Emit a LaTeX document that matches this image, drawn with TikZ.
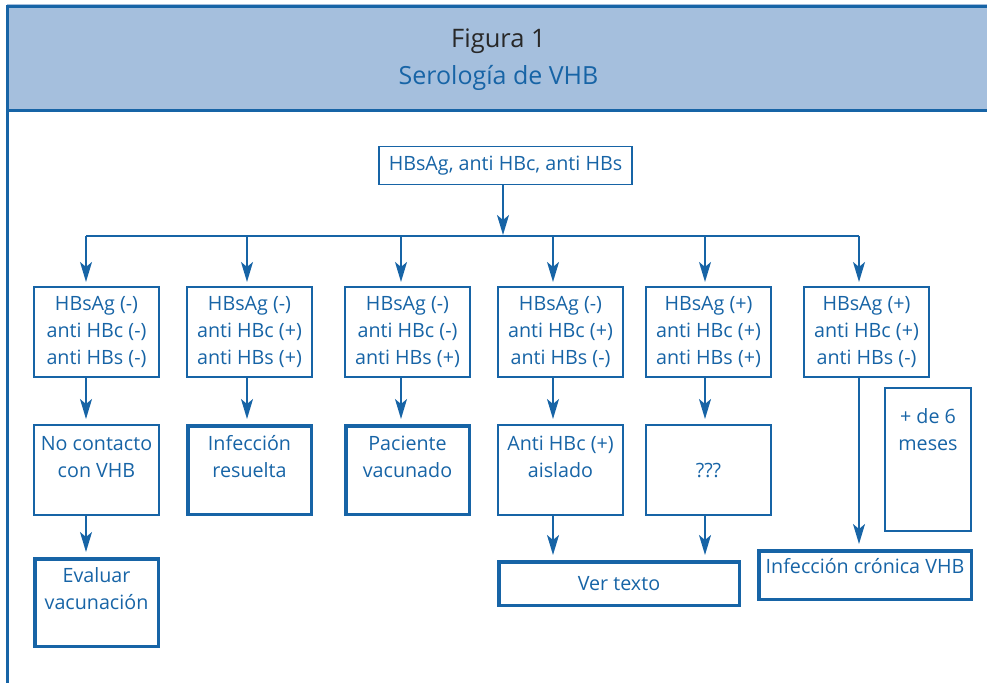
\documentclass[tikz,border=0pt]{standalone}
\usepackage{fontspec}
\setmainfont{Open Sans}
\usetikzlibrary{arrows.meta}
\definecolor{vblue}{RGB}{23,100,166}
\definecolor{hdrfill}{RGB}{165,191,221}
\definecolor{ttl}{RGB}{40,40,40}
\begin{document}
\begin{tikzpicture}[x=1pt,y=-1pt,
  boxtxt/.style={text=vblue, align=center, font=\fontsize{19.7}{27}\selectfont},
  box/.style={boxtxt, draw=vblue, line width=1.6pt, inner sep=0pt},
  thickbox/.style={box, line width=3.5pt},
  arr/.style={draw=vblue, line width=1.6pt, -{Stealth[length=20pt,width=12pt,inset=5pt]}, shorten >=5pt},
  link/.style={draw=vblue, line width=1.6pt},
  rowone/.style={box, minimum width=125.5pt, minimum height=90.5pt},
  rowtwo/.style={minimum width=127pt-#1, minimum height=92pt-#1}]
\useasboundingbox (0,0) rectangle (987,683);
% header
\fill[hdrfill] (7,4) rectangle (987,110);
\draw[vblue, line width=3pt] (987,6) -- (7,6) -- (7,683);
\draw[vblue, line width=3pt] (7,110) -- (987,110);
\node[font=\fontsize{25.5}{28}\selectfont, text=ttl, anchor=base] (t1) at (498.5,47) {Figura 1};
\node[font=\fontsize{25}{28}\selectfont, text=vblue, anchor=base] (t2) at (498.5,84) {Serología de VHB};
% top
\node[box, minimum width=253pt, minimum height=38pt] (top) at (505.5,165.5) {HBsAg, anti HBc, anti HBs};
% row 1
\node[rowone] (b1) at (96.5,332) {HBsAg (-)\\anti HBc (-)\\anti HBs (-)};
\node[rowone] (b2) at (249.5,332) {HBsAg (-)\\anti HBc (+)\\anti HBs (+)};
\node[rowone] (b3) at (407.5,332) {HBsAg (-)\\anti HBc (-)\\anti HBs (+)};
\node[rowone] (b4) at (560.5,332) {HBsAg (-)\\anti HBc (+)\\anti HBs (-)};
\node[rowone] (b5) at (708.5,332) {HBsAg (+)\\anti HBc (+)\\anti HBs (+)};
\node[rowone] (b6) at (866.5,332) {HBsAg (+)\\anti HBc (+)\\anti HBs (-)};
% row 2
\node[box, rowtwo=1.6pt] (c1) at (96.5,470) {No contacto\\con VHB\\\mbox{}};
\node[thickbox, rowtwo=3.5pt] (c2) at (249.5,470) {Infección\\resuelta\\\mbox{}};
\node[thickbox, rowtwo=3.5pt] (c3) at (407.5,470) {Paciente\\vacunado\\\mbox{}};
\node[box, rowtwo=1.6pt] (c4) at (560.5,470) {Anti HBc (+)\\aislado\\\mbox{}};
\node[box, rowtwo=1.6pt] (c5) at (708.5,470) {???};
\node[box, minimum width=86.4pt, minimum height=143.4pt,
  label={[boxtxt, inner sep=0pt, anchor=north, yshift=-21pt]north:{+ de 6\\meses}}] (m) at (928,459.5) {};
% row 3
\node[thickbox, minimum width=123.5pt, minimum height=87.5pt] (d1) at (96.5,602.5) {Evaluar\\vacunación\\\mbox{}};
\node[thickbox, minimum width=240.5pt, minimum height=43.5pt] (v) at (619,583.5) {Ver texto};
\node[thickbox, minimum width=212.5pt, minimum height=48.5pt, text height=15pt, text depth=19pt] (ic) at (865,575) {Infección crónica VHB};
% connectors
\coordinate (jt) at (503,236);
\coordinate (j1) at (86,236);
\coordinate (j2) at (247,236);
\coordinate (j3) at (401,236);
\coordinate (j4) at (553,236);
\coordinate (j5) at (705,236);
\coordinate (j6) at (859,236);
\draw[arr, shorten >=1pt] (top.south -| jt) -- (jt);
\draw[link] (j1) -- (j6);
\foreach \i in {1,...,6} {\draw[arr, shorten >=4pt] (j\i) -- (j\i |- b\i.north);}
\draw[arr] (b1.south -| j1) -- (c1.north -| j1);
\draw[arr] (b2.south -| j2) -- (c2.north -| j2);
\draw[arr] (b3.south -| j3) -- (c3.north -| j3);
\draw[arr] (b4.south -| j4) -- (c4.north -| j4);
\draw[arr] (b5.south -| j5) -- (c5.north -| j5);
\draw[arr] (b6.south -| j6) -- (ic.north -| j6);
\draw[arr] (c1.south -| j1) -- (d1.north -| j1);
\draw[arr] (c4.south -| j4) -- (v.north -| j4);
\draw[arr] (c5.south -| j5) -- (v.north -| j5);
\end{tikzpicture}
\end{document}
